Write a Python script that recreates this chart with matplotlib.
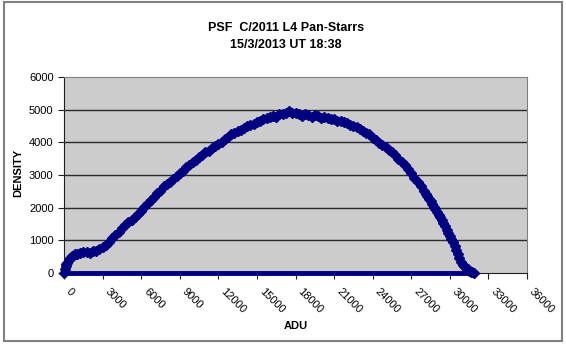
import matplotlib.pyplot as plt
from matplotlib.patches import Rectangle
from matplotlib.transforms import ScaledTranslation

plt.rcParams["font.family"] = ["Liberation Sans", "DejaVu Sans"]

# ADU bins (finer where the profile is steep) and DENSITY read per bin
adu = (
    [0, 60, 125, 190, 250, 375, 500, 625, 750, 875]
    + list(range(1000, 28000, 250))
    + list(range(28000, 32000, 125))
)
density = [
    0, 120, 210, 270, 320, 400, 460, 510, 540, 570,
    590, 620, 650, 640, 610, 660,
    680, 720, 790, 860, 960, 1060, 1170, 1250, 1370, 1460,
    1560, 1620, 1720, 1800, 1910, 2020, 2140, 2230, 2330, 2440,
    2520, 2650, 2710, 2790, 2890, 2970, 3070, 3130, 3230, 3310,
    3400, 3460, 3540, 3600, 3690, 3750, 3830, 3890, 3960, 4020,
    4100, 4150, 4240, 4290, 4360, 4390, 4430, 4500, 4540, 4570,
    4620, 4660, 4700, 4730, 4780, 4810, 4770, 4860, 4880, 4910,
    4950, 4890, 4910, 4860, 4820, 4870, 4830, 4790, 4840, 4800,
    4760, 4790, 4740, 4720, 4700, 4660, 4640, 4610, 4590, 4540,
    4510, 4460, 4410, 4350, 4300, 4250, 4130, 4060, 3980, 3920,
    3850, 3770, 3690, 3600, 3500, 3400, 3310, 3180, 3060, 2920,
    2780, 2650,
    2500, 2430, 2350, 2280, 2200, 2110, 2030, 1950, 1860, 1790,
    1700, 1620, 1540, 1440, 1330, 1230, 1120, 1040, 950, 830,
    700, 580, 450, 350, 260, 200, 150, 110, 70, 40,
    20, 10,
]
# empty bins of the sheet, plotted at zero density
baseline_adu = [0, 31900]
baseline = [0, 0]

x_ticks = list(range(0, 36001, 3000))
y_ticks = list(range(0, 6001, 1000))
navy = "#000080"

fig = plt.figure(figsize=(5.66, 3.45), dpi=100)
fig.patches.append(Rectangle((4 / 566, 1 - 341 / 345), 558 / 566, 339 / 345,
                             transform=fig.transFigure, fill=False,
                             edgecolor="#808080", linewidth=1.5))

ax = fig.add_axes([64 / 566, 1 - 273 / 345, 463 / 566, 196 / 345])
ax.set_facecolor("#CCCCCC")
ax.set_xlim(0, 36000)
ax.set_ylim(0, 6000)

for y in y_ticks[1:-1]:
    ax.axhline(y, color="#2a2a2a", linewidth=1.0, zorder=1)

ax.plot(baseline_adu, baseline, linestyle="-", linewidth=3.5,
        color=navy, clip_on=False, zorder=3, solid_capstyle="butt")
ax.plot(adu, density, linestyle="none", marker="D", markersize=4.6,
        color=navy, clip_on=False, zorder=3)

for side in ("top", "right"):
    ax.spines[side].set_color("#808080")
for side in ("left", "bottom"):
    ax.spines[side].set_color("#202020")

ax.set_xticks(x_ticks)
ax.set_yticks(y_ticks)
ax.tick_params(axis="both", direction="out", length=4, width=0.8,
               labelsize=8, color="#202020")
ax.tick_params(axis="x", pad=8)
shift = ScaledTranslation(4 / 100, 0, fig.dpi_scale_trans)
for label in ax.get_xticklabels():
    label.set_rotation(-45)
    label.set_ha("left")
    label.set_va("center")
    label.set_rotation_mode("anchor")
    label.set_transform(label.get_transform() + shift)

ax.set_xlabel("ADU", fontsize=8, fontweight="bold", labelpad=4)
fig.text(18 / 566, 1 - 173 / 345, "DENSITY", rotation=90, ha="center",
         va="center", fontsize=8, fontweight="bold")

fig.text(0.505, 1 - 28 / 345, "PSF  C/2011 L4 Pan-Starrs", ha="center",
         va="center", fontsize=9, fontweight="bold")
fig.text(0.505, 1 - 45 / 345, "15/3/2013 UT 18:38", ha="center",
         va="center", fontsize=9, fontweight="bold")

fig.savefig("out.png", dpi=100)
